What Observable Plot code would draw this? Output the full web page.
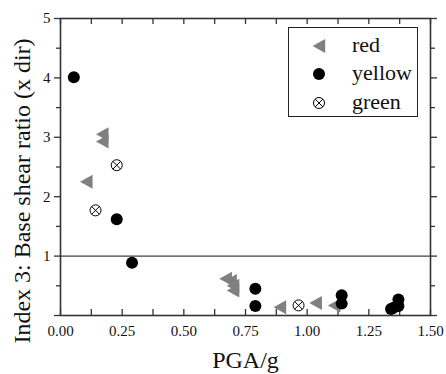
<!DOCTYPE html>
<html>
<head>
<meta charset="utf-8">
<script src="https://cdn.jsdelivr.net/npm/d3@7"></script>
<script src="https://cdn.jsdelivr.net/npm/@observablehq/plot@0.6"></script>
<style>
  html, body { margin: 0; padding: 0; background: #fff; }
  #wrap { position: relative; width: 446px; height: 374px; font-family: 'Liberation Serif', 'Times New Roman', Times, serif; }
  #legend { position: absolute; left: 288px; top: 27px; width: 130px; height: 90px; box-sizing: border-box; border: 1px solid #222; background: #fff; }
  .row { position: absolute; left: 0; height: 28px; width: 128px; }
  .row svg { position: absolute; left: 19px; top: 3px; }
  .row span { position: absolute; left: 63px; top: 0; font-size: 22px; line-height: 26px; color: #111; font-family: 'Liberation Serif', 'Times New Roman', Times, serif; }
  svg text { font-family: 'Liberation Serif', 'Times New Roman', Times, serif !important; font-variant: normal !important; }
</style>
</head>
<body>
<div id="wrap"><div id="chart"></div><div id="legend"></div></div>
<script>
// Data
const seriesNames = ["red", "yellow", "green"];
const redX = [0.105, 0.17, 0.17, 0.67, 0.69, 0.70, 0.70, 0.89, 1.035, 1.11];
const redY = [2.25, 3.05, 2.93, 0.62, 0.58, 0.50, 0.42, 0.14, 0.21, 0.17];
const yellowX = [0.054, 0.228, 0.29, 0.79, 0.79, 1.14, 1.14, 1.34, 1.35, 1.37, 1.37];
const yellowY = [4.01, 1.62, 0.89, 0.45, 0.16, 0.34, 0.20, 0.11, 0.13, 0.27, 0.16];
const greenX = [0.142, 0.228, 0.965];
const greenY = [1.77, 2.53, 0.17];
const xTicks = [0, 0.25, 0.5, 0.75, 1.0, 1.25, 1.5];
const xMinorTicks = [0.125, 0.375, 0.625, 0.875, 1.125, 1.375];
const yTicks = [0, 1, 2, 3, 4, 5];
const yTickLabels = ["", "1", "2", "3", "4", "5"];
const yMinorTicks = [0.5, 1.5, 2.5, 3.5, 4.5];
const refLine = [1];
const xLabel = "PGA/g";
const yLabel = "Index 3: Base shear ratio (x dir)";

const red = redX.map((x, i) => ({x, y: redY[i]}));
const yellow = yellowX.map((x, i) => ({x, y: yellowY[i]}));
const green = greenX.map((x, i) => ({x, y: greenY[i]}));

const serif = "'Liberation Serif', 'Times New Roman', Times, serif";

// custom symbols
const triLeft = {
  draw(ctx, size) {
    const r = Math.sqrt(size / Math.PI);
    ctx.moveTo(-r * 1.15, 0);
    ctx.lineTo(r * 1.1, -r * 1.25);
    ctx.lineTo(r * 1.1, r * 1.25);
    ctx.closePath();
  }
};
const circX = {
  draw(ctx, size) {
    const r = Math.sqrt(size / Math.PI);
    ctx.moveTo(r, 0);
    ctx.arc(0, 0, r, 0, 2 * Math.PI);
    const a = r * 0.72;
    ctx.moveTo(-a, -a); ctx.lineTo(a, a);
    ctx.moveTo(-a, a); ctx.lineTo(a, -a);
  }
};

const W = 446, H = 374, mT = 18, mB = 59, mL = 60, mR = 16;
const ph = H - mT - mB;
const gray = "#808080";

const chart = Plot.plot({
  width: W, height: H,
  marginTop: mT, marginBottom: mB, marginLeft: mL, marginRight: mR,
  x: {domain: [0, 1.5]},
  y: {domain: [0, 5]},
  style: {fontFamily: serif, fontSize: "15px", color: "#111", background: "#fff"},
  marks: [
    Plot.ruleY(refLine, {stroke: "#111", strokeWidth: 1}),
    // x axis labels
    Plot.axisX(xTicks, {anchor: "bottom", tickSize: 0, tickPadding: 10, tickFormat: d3.format(".2f"), label: null, fontSize: 15, fontFamily: serif}),
    // inside ticks on bottom and top
    Plot.tickX(xTicks.concat(xMinorTicks), {x: d => d, insetTop: ph - 6, stroke: "#333", strokeWidth: 1.3}),
    Plot.tickX(xTicks.concat(xMinorTicks), {x: d => d, insetBottom: ph - 6, stroke: "#333", strokeWidth: 1.3}),
    // y axes outside ticks
    Plot.axisY(yTicks, {anchor: "left", tickSize: 6, tickPadding: 4, tickFormat: (d, i) => yTickLabels[i], label: null, fontSize: 15, fontFamily: serif, stroke: "#333", strokeWidth: 1.3}),
    Plot.axisY(yMinorTicks, {anchor: "left", tickSize: 4, tickFormat: () => "", label: null, stroke: "#333", strokeWidth: 1.3}),
    Plot.axisY(yTicks, {anchor: "right", tickSize: 6, tickFormat: () => "", label: null, stroke: "#333", strokeWidth: 1.3}),
    Plot.axisY(yMinorTicks, {anchor: "right", tickSize: 4, tickFormat: () => "", label: null, stroke: "#333", strokeWidth: 1.3}),
    Plot.frame({stroke: "#333", strokeWidth: 1.6}),
    // data
    Plot.dot(red, {x: "x", y: "y", symbol: triLeft, r: 5.6, fill: gray, stroke: "none"}),
    Plot.dot(yellow, {x: "x", y: "y", symbol: "circle", r: 6, fill: "#000", stroke: "none"}),
    Plot.dot(green, {x: "x", y: "y", symbol: circX, r: 5.5, fill: "#fff", stroke: "#000", strokeWidth: 1}),
    // axis titles
    Plot.text([xLabel], {frameAnchor: "bottom", dy: 52, fontSize: 24, fill: "#111", fontFamily: serif}),
    Plot.text([yLabel], {frameAnchor: "left", textAnchor: "middle", rotate: -90, dx: -38, dy: 24, fontSize: 24, fill: "#111", fontFamily: serif})
  ]
});
document.getElementById("chart").appendChild(chart);

// Legend
const legendSyms = [
  {sym: triLeft, r: 5.6, fill: gray, stroke: "none"},
  {sym: d3.symbolCircle, r: 6, fill: "#000", stroke: "none"},
  {sym: circX, r: 5.5, fill: "#fff", stroke: "#000"}
];
const rowTops = [4, 32, 61];
const legend = document.getElementById("legend");
seriesNames.forEach((name, i) => {
  const s = legendSyms[i];
  const row = document.createElement("div");
  row.className = "row";
  row.style.top = rowTops[i] + "px";
  const path = d3.symbol(s.sym, Math.PI * s.r * s.r)();
  row.innerHTML = `<svg width="22" height="22" viewBox="-11 -11 22 22"><path d="${path}" fill="${s.fill}" stroke="${s.stroke}" stroke-width="1"/></svg><span>${name}</span>`;
  legend.appendChild(row);
});
</script>
</body>
</html>
